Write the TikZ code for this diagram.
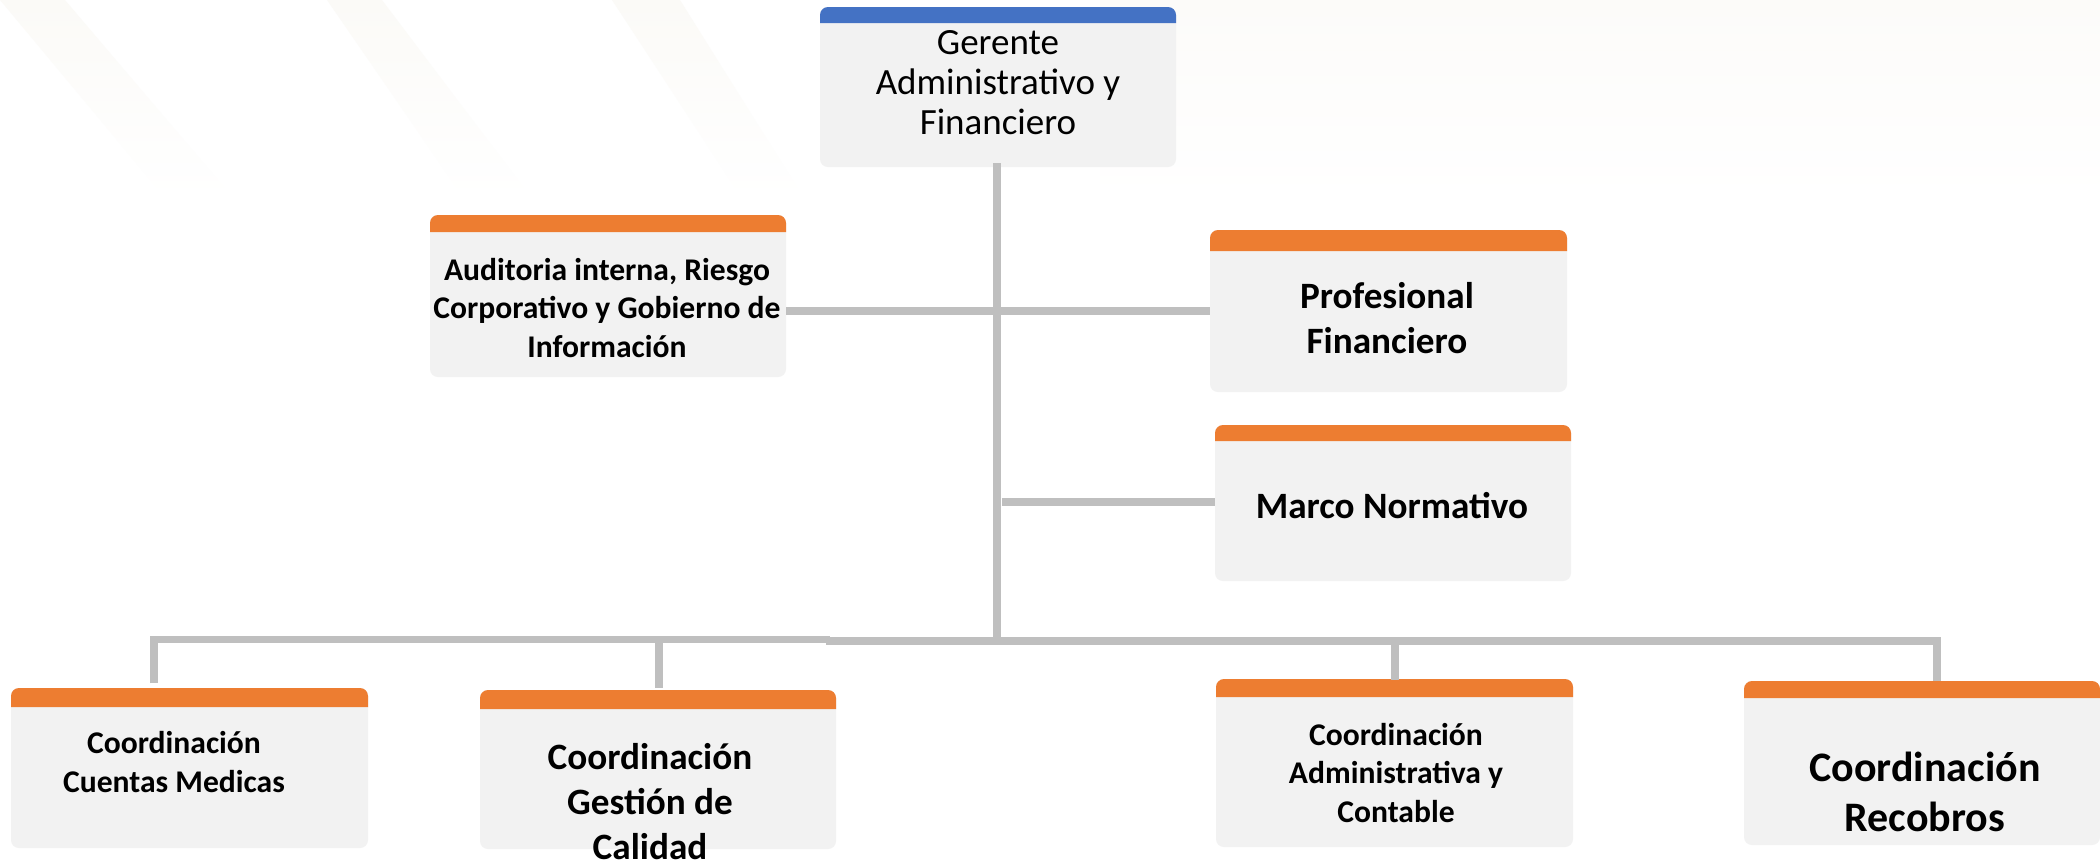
\documentclass[tikz,border=0pt]{standalone}
\usepackage{fontspec}
\setmainfont{Carlito}
\usetikzlibrary{fit}
\definecolor{boxgray}{HTML}{F2F2F2}
\definecolor{orng}{HTML}{ED7D31}
\definecolor{blu}{HTML}{4472C4}
\definecolor{conn}{HTML}{BFBFBF}
\definecolor{wma}{HTML}{FBFAF7}
\definecolor{wmb}{HTML}{FCFBF9}
\newcommand\orgbox[7]{%
  \node[boxbody, fit={(#2,#3) (#4,#5)}] (#1) {};
  \fill[#7] (#2,#6) [rounded corners=4pt] -- (#2,#3) -- (#4,#3) [sharp corners] -- (#4,#6) -- cycle;
}
\begin{document}
\begin{tikzpicture}[x=0.5pt,y=-0.5pt,
  boxbody/.style={inner sep=0pt, fill=boxgray, rounded corners=4pt},
  link/.style={draw=conn, line width=3.75pt},
  tsmall/.style={font=\bfseries\fontsize{15.8}{19.25}\selectfont, align=center, inner sep=0pt},
  tlarge/.style={font=\bfseries\fontsize{18.6}{22.5}\selectfont, align=center, inner sep=0pt},
  thuge/.style={font=\bfseries\fontsize{21}{25}\selectfont, align=center, inner sep=0pt},
  tlight/.style={font=\fontsize{18.5}{20}\selectfont, align=center, inner sep=0pt},
  wmark/.style={top color=wma, bottom color=white},
]
\useasboundingbox (0,0) rectangle (2100,859);
\clip (0,0) rectangle (2100,859);
\fill[white] (0,0) rectangle (2100,859);
% faint watermark
\shade[wmark] (0,0) -- (65,0) -- (235,200) -- (167,200) -- cycle;
\shade[wmark] (327,0) -- (382,0) -- (533,200) -- (465,200) -- cycle;
\shade[wmark] (612,0) -- (680,0) -- (805,200) -- (743,200) -- cycle;
\shade[top color=wmb, bottom color=white] (1100,0) rectangle (2100,200);

% boxes
\orgbox{ger}{820}{7}{1176}{167}{23}{blu}
\orgbox{aud}{430}{215}{786}{377}{232}{orng}
\orgbox{prof}{1210}{230}{1567}{392}{251}{orng}
\orgbox{marco}{1215}{425}{1571}{581}{441}{orng}
\orgbox{cue}{11}{688}{368}{848}{707}{orng}
\orgbox{cal}{480}{690}{836}{849}{709}{orng}
\orgbox{adm}{1216}{679}{1573}{847}{697}{orng}
\orgbox{rec}{1744}{681}{2100}{845}{698}{orng}

% junction coordinates
\coordinate (jA) at (997,311);
\coordinate (jM) at (1002,502);
\coordinate (busL) at (154,639.5);
\coordinate (busStep) at (830,639.5);
\coordinate (busStep2) at (826,641);
\coordinate (busR) at (1937,641);
\coordinate (busC) at (997,641);
\coordinate (dCal) at (659,639.5);
\coordinate (dAdm) at (1395,641);

% connectors
\draw[link] ([yshift=2pt]ger.south -| busC) -- (busC);
\draw[link] (aud.east |- jA) -- (jA);
\draw[link] (jA) -- (prof.west |- jA);
\draw[link] (jM) -- (marco.west |- jM);
\draw[link] (154,683) -- (busL) -- (busStep);
\draw[link] (busStep2) -- (busR) -- (1937,681);
\draw[link] (dCal) -- (659,688);
\draw[link] (dAdm) -- (1395,680);

% texts
\node[tlight] (tger) at (998,83) {Gerente\\Administrativo y\\Financiero};
\node[tsmall] (taud) at (607,308) {Auditoria interna, Riesgo\\Corporativo y Gobierno de\\Información};
\node[tlarge] (tprof) at (1387,318) {Profesional\\Financiero};
\node[tlarge] (tmarco) at (1392,506) {Marco Normativo};
\node[tsmall] (tcue) at (174,762) {Coordinación\\Cuentas Medicas};
\node[tlarge] (tcal) at (650,802) {Coordinación\\Gestión de\\Calidad};
\node[tsmall] (tadm) at (1396,773) {Coordinación\\Administrativa y\\Contable};
\node[thuge] (trec) at (1925,792) {Coordinación\\Recobros};
\end{tikzpicture}
\end{document}
